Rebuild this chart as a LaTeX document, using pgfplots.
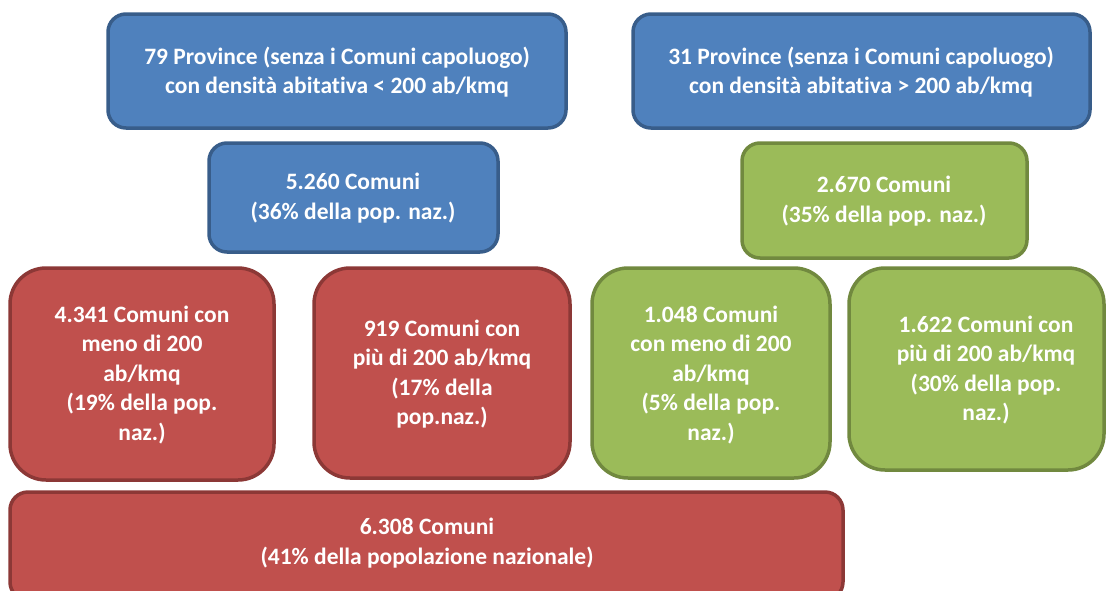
\documentclass[border=0pt]{standalone}
\usepackage{pgfplots}
\pgfplotsset{compat=1.18}
\usepackage{fontspec}
\setmainfont[Ligatures=NoCommon]{Carlito}
\definecolor{bfill}{HTML}{4F81BD}
\definecolor{bline}{HTML}{385D8A}
\definecolor{rfill}{HTML}{C0504D}
\definecolor{rline}{HTML}{8C3836}
\definecolor{gfill}{HTML}{9BBB59}
\definecolor{gline}{HTML}{71893F}
\begin{document}
\begin{tikzpicture}
\begin{axis}[
  name=ax,
  width=1106pt, height=590pt, scale only axis,
  xmin=0, xmax=1106, ymin=0, ymax=590, y dir=reverse,
  hide axis, clip=true,
]
\tikzset{
  box/.style={line width=3.5pt, rounded corners=#1},
  lab/.style={align=center, text=white, font=\fontsize{23.5}{29.5}\selectfont\bfseries},
}
% top row
\draw[box=18pt, fill=bfill, draw=bline] (axis cs:108,14) rectangle (axis cs:566,128);
\draw[box=18pt, fill=bfill, draw=bline] (axis cs:633,14) rectangle (axis cs:1090,128);
% middle row
\draw[box=18pt, fill=bfill, draw=bline] (axis cs:209,143) rectangle (axis cs:498,252);
\draw[box=18pt, fill=gfill, draw=gline] (axis cs:742,143) rectangle (axis cs:1027,258);
% third row
\draw[box=36pt, fill=rfill, draw=rline] (axis cs:10,268) rectangle (axis cs:274,480);
\draw[box=36pt, fill=rfill, draw=rline] (axis cs:314,268) rectangle (axis cs:570,478);
\draw[box=36pt, fill=gfill, draw=gline] (axis cs:592,268) rectangle (axis cs:830,478);
\draw[box=36pt, fill=gfill, draw=gline] (axis cs:849,268) rectangle (axis cs:1104,470);
% bottom
\draw[box=18pt, fill=rfill, draw=rline] (axis cs:10,492) rectangle (axis cs:843,600);

\node[lab] at (axis cs:337,72) {79 Province (senza i Comuni capoluogo)\\con densità abitativa < 200 ab/kmq};
\node[lab] at (axis cs:861,72) {31 Province (senza i Comuni capoluogo)\\con densità abitativa > 200 ab/kmq};
\node[lab] at (axis cs:353,198) {5.260 Comuni\\(36\% della pop. naz.)};
\node[lab] at (axis cs:884,201) {2.670 Comuni\\(35\% della pop. naz.)};
\node[lab] at (axis cs:142,375) {4.341 Comuni con\\meno di 200\\ab/kmq\\(19\% della pop.\\naz.)};
\node[lab] at (axis cs:442,374) {919 Comuni con\\più di 200 ab/kmq\\(17\% della\\pop.naz.)};
\node[lab] at (axis cs:711,375) {1.048 Comuni\\con meno di 200\\ab/kmq\\(5\% della pop.\\naz.)};
\node[lab] at (axis cs:986,370) {1.622 Comuni con\\più di 200 ab/kmq\\(30\% della pop.\\naz.)};
\node[lab] at (axis cs:427,543) {6.308 Comuni\\(41\% della popolazione nazionale)};
\end{axis}
\pgfresetboundingbox
\path (ax.south west) rectangle (ax.north east);
\end{tikzpicture}
\end{document}
